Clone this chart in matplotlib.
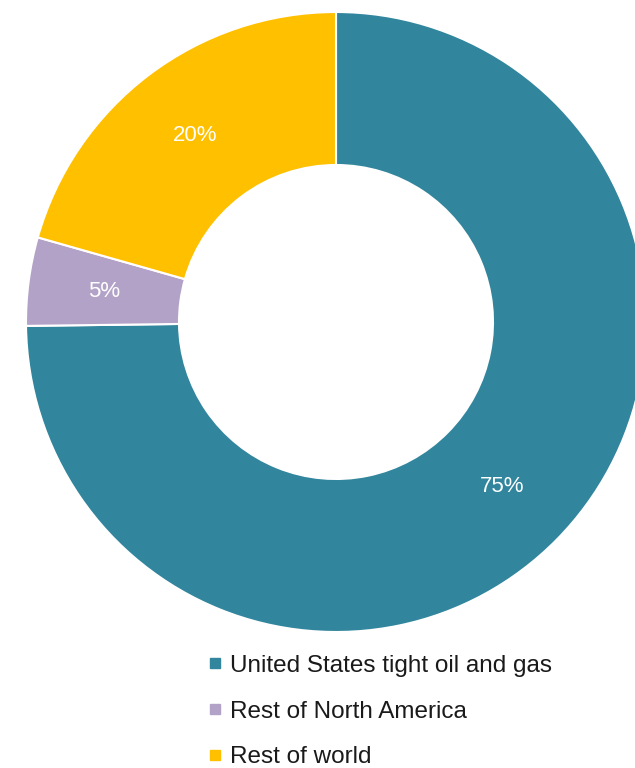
import matplotlib.pyplot as plt
from matplotlib.lines import Line2D

labels = ['United States tight oil and gas', 'Rest of North America', 'Rest of world']
# shares as measured from the wedge angles in the picture
shares = [74.8, 4.6, 20.6]
pct_labels = ['75%', '5%', '20%']
colors = ['#31859C', '#B3A2C7', '#FFC000']

plt.rcParams['font.family'] = ['Liberation Sans', 'DejaVu Sans']

fig = plt.figure(figsize=(6.35, 7.68), dpi=100)
ax = fig.add_axes([0, 0, 1, 1])

pct_iter = iter(pct_labels)

# donut, centre and radius in pixel units of the figure
wedges, texts, autotexts = ax.pie(
    shares,
    colors=colors,
    startangle=90,
    counterclock=False,
    center=(336, 446),
    radius=310,
    autopct=lambda p: next(pct_iter),
    pctdistance=0.755,
    wedgeprops=dict(width=153, edgecolor='white', linewidth=1.5),
    textprops=dict(color='white', fontsize=16),
    frame=True,
)
ax.set_xlim(0, 635)
ax.set_ylim(0, 768)
ax.set_aspect('equal')
ax.axis('off')

handles = [Line2D([], [], marker='s', linestyle='none', color=c, markersize=7) for c in colors]
leg = fig.legend(
    handles, labels,
    loc='upper left',
    bbox_to_anchor=(0.312, 0.163),
    frameon=False,
    fontsize=17.5,
    handlelength=0.41,
    handletextpad=0.41,
    labelspacing=0.97,
    borderpad=0,
    labelcolor='#1a1a1a',
)

fig.savefig('out.png', dpi=100)
